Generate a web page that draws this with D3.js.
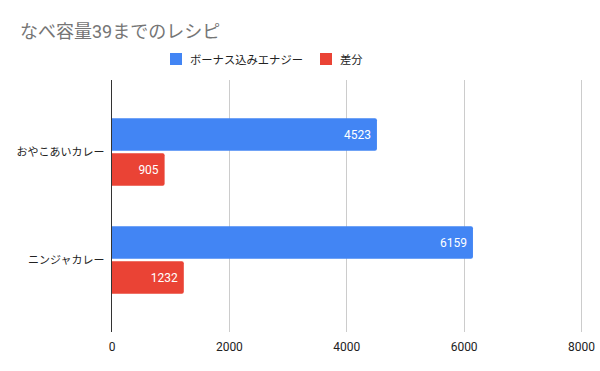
<!DOCTYPE html>
<html>
<head>
<meta charset="utf-8">
<script src="https://cdn.jsdelivr.net/npm/d3@7"></script>
<style>
  body { margin: 0; background: #fff; }
  svg { display: block; font-family: Roboto, "Noto Sans CJK JP", sans-serif; }
</style>
</head>
<body>
<svg id="chart" width="600" height="371"></svg>
<script>
// data
const categories = ["おやこあいカレー", "ニンジャカレー"];
const seriesNames = ["ボーナス込みエナジー", "差分"];
const bonusEnergy = [4523, 6159];
const diff = [905, 1232];
const xTicks = [0, 2000, 4000, 6000, 8000];
const colors = ["#4285f4", "#ea4335"];

const width = 600, height = 371;
const margin = { top: 80, right: 19, bottom: 39, left: 111.5 };

const svg = d3.select("#chart");

const rows = categories.map((c, i) => ({
  cat: c,
  values: [bonusEnergy[i], diff[i]]
}));

const x = d3.scaleLinear()
  .domain([0, 8000])
  .range([margin.left, width - margin.right]);

const y = d3.scaleBand()
  .domain(categories)
  .range([margin.top, height - margin.bottom])
  .paddingInner(0.375)
  .paddingOuter(0.354);

const ySub = d3.scaleBand()
  .domain(seriesNames)
  .range([0, y.bandwidth()])
  .paddingInner(0.07);

// title
svg.append("text")
  .attr("x", 20)
  .attr("y", 38)
  .attr("fill", "#757575")
  .style("font-size", "18px")
  .text("なべ容量39までのレシピ");

// legend
const legend = svg.append("g").attr("class", "legend");
const legendX = [170, 320];
seriesNames.forEach((name, i) => {
  const g = legend.append("g").attr("transform", `translate(${legendX[i]},53)`);
  g.append("rect").attr("width", 12).attr("height", 12).attr("fill", colors[i]);
  g.append("text")
    .attr("x", 20)
    .attr("y", 10.5)
    .attr("fill", "#222")
    .style("font-size", "11.3px")
    .text(name);
});

// grid
svg.append("g")
  .attr("class", "grid")
  .selectAll("line")
  .data(xTicks.slice(1))
  .join("line")
  .attr("x1", d => Math.round(x(d)) + 0.5)
  .attr("x2", d => Math.round(x(d)) + 0.5)
  .attr("y1", margin.top)
  .attr("y2", height - margin.bottom)
  .attr("stroke", "#cccccc");

// x axis labels
const xAxis = g => g
  .attr("transform", `translate(0,${height - margin.bottom})`)
  .call(d3.axisBottom(x).tickValues(xTicks).tickSize(0).tickPadding(10).tickFormat(d3.format("d")))
  .call(g => g.select(".domain").remove())
  .call(g => g.selectAll("text")
    .attr("fill", "#222")
    .style("font-size", "12px")
    .style("font-family", "Roboto, sans-serif"));
svg.append("g").attr("class", "x-axis").call(xAxis);

// bars, rounded on the right end only
function barPath(x0, y0, w, h, r) {
  r = Math.min(r, w);
  return `M${x0},${y0}H${x0 + w - r}Q${x0 + w},${y0} ${x0 + w},${y0 + r}` +
    `V${y0 + h - r}Q${x0 + w},${y0 + h} ${x0 + w - r},${y0 + h}H${x0}Z`;
}

const groups = svg.append("g").attr("class", "plot-area")
  .selectAll("g")
  .data(rows)
  .join("g")
  .attr("transform", d => `translate(0,${y(d.cat)})`);

const cells = groups.selectAll("g")
  .data(d => d.values.map((v, i) => ({ v, s: seriesNames[i], i })))
  .join("g");

cells.append("path")
  .attr("fill", d => colors[d.i])
  .attr("d", d => barPath(x(0), ySub(d.s), x(d.v) - x(0), ySub.bandwidth(), 2));

cells.append("text")
  .attr("x", d => x(d.v) - 6)
  .attr("y", d => ySub(d.s) + ySub.bandwidth() / 2)
  .attr("dy", "0.35em")
  .attr("text-anchor", "end")
  .attr("fill", "#fff")
  .style("font-size", "12px")
  .text(d => d.v);

// y axis
const yAxis = g => g
  .attr("transform", `translate(${margin.left},0)`)
  .call(d3.axisLeft(y).tickSize(0).tickPadding(7))
  .call(g => g.select(".domain")
    .attr("d", `M0,${margin.top}V${height - margin.bottom}`)
    .attr("stroke", "#333"))
  .call(g => g.selectAll("text")
    .attr("fill", "#222")
    .style("font-size", "11px")
    .style("font-family", "'Noto Sans CJK JP', sans-serif"));
svg.append("g").attr("class", "y-axis").call(yAxis);
</script>
</body>
</html>
